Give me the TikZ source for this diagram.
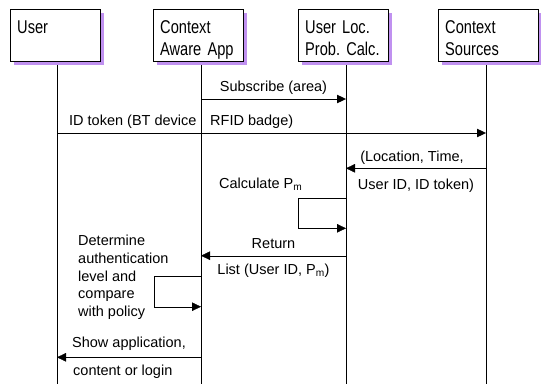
\documentclass[tikz,border=0pt]{standalone}
\usepackage{fontspec}
\setmainfont{Liberation Sans}
\newfontfamily\narrowfont[FakeStretch=0.79]{Liberation Sans}
\usetikzlibrary{arrows.meta,shadows}
\definecolor{boxshadow}{RGB}{192,145,240}

\tikzset{
	,x = 1pt, y = -1pt
	,line width = 1.9pt
	,font = \fontsize{14.5}{17.75}\selectfont
	,actor/.style = {draw=black, fill=white, anchor=north west, align=left,
		text width=#1-10pt, inner xsep=5pt, inner ysep=5pt,
		text height=19pt, text depth=23pt,
		font=\narrowfont\fontsize{18.5}{22}\selectfont,
		drop shadow={shadow xshift=4pt, shadow yshift=-4pt, fill=boxshadow, opacity=1}}
	,actor/.default = 90pt
	,lifeline/.style = {-}
	,msg/.style = {-{Triangle[length=9pt, width=8.5pt]}}
	,msgtext/.style = {inner sep=1pt, text height=11pt, text depth=3pt}
}

\begin{document}
\begin{tikzpicture}
	\useasboundingbox (0,0) rectangle (541,384);
	% lifelines
	\coordinate (userL) at (57,61);
	\coordinate (appL)  at (201,61);
	\coordinate (locL)  at (346,61);
	\coordinate (srcL)  at (486,61);
	\coordinate (end)   at (0,384);
	\draw[lifeline] (userL) -- (userL |- end);
	\draw[lifeline] (appL)  -- (appL |- end);
	\draw[lifeline] (locL)  -- (locL |- end);
	\draw[lifeline] (srcL)  -- (srcL |- end);
	% actors
	\node[actor]        (user) at (10,9)  {\hspace*{2pt}User\\\mbox{}};
	\node[actor]        (app)  at (153,9) {\mbox{\hspace*{2pt}Context}\\\mbox{\hspace*{2pt}Aware App}};
	\node[actor]        (loc)  at (298,9) {\mbox{\hspace*{2pt}User Loc.}\\\mbox{\hspace*{2pt}Prob.\ Calc.}};
	\node[actor=100pt]  (src)  at (438,9) {\mbox{\hspace*{2pt}Context}\\\mbox{\hspace*{2pt}Sources}};
	% message rows
	\coordinate (m1) at (0,99);
	\coordinate (m2) at (0,133);
	\coordinate (m3) at (0,168.3);
	\coordinate (c1) at (0,198.3);
	\coordinate (c2) at (0,228.3);
	\coordinate (m4) at (0,255.7);
	\coordinate (d1) at (0,276);
	\coordinate (d2) at (0,306.7);
	\coordinate (m5) at (0,357.3);
	\draw[msg] (appL |- m1) -- node[msgtext, above=3pt] {Subscribe (area)} (locL |- m1);
	\draw[msg] (userL |- m2) -- (srcL |- m2);
	\node[msgtext, anchor=base west] (idtoken) at (68,125.5) {ID token (BT device};
	\node[msgtext, anchor=base west] (badge) at (209,125.5) {RFID badge)};
	\draw[msg] (srcL |- m3) -- node[msgtext, above=3pt, xshift=-4pt] {(Location, Time,}
		node[msgtext, below=9pt] {User ID, ID token)} (locL |- m3);
	\draw[msg] (locL |- c1) -- ++(-48,0) |- (locL |- c2);
	\node[msgtext, anchor=base west] (calc) at (218,188.5) {Calculate P\textsubscript{m}};
	\draw[msg] (locL |- m4) -- node[msgtext, above=3pt] {Return}
		node[msgtext, below=6.5pt] {List (User ID, P\textsubscript{m})} (appL |- m4);
	\draw[msg] (appL |- d1) -- ++(-47,0) |- (appL |- d2);
	\node[inner sep=0pt, align=left, anchor=north west] (policy) at (78,235)
		{Determine\\authentication\\level and\\compare\\with policy};
	\draw[msg] (appL |- m5) -- node[msgtext, above=6pt] {Show application,} (userL |- m5);
	\node[msgtext, anchor=base west] (login) at (72,375.5) {content or login};
\end{tikzpicture}
\end{document}
